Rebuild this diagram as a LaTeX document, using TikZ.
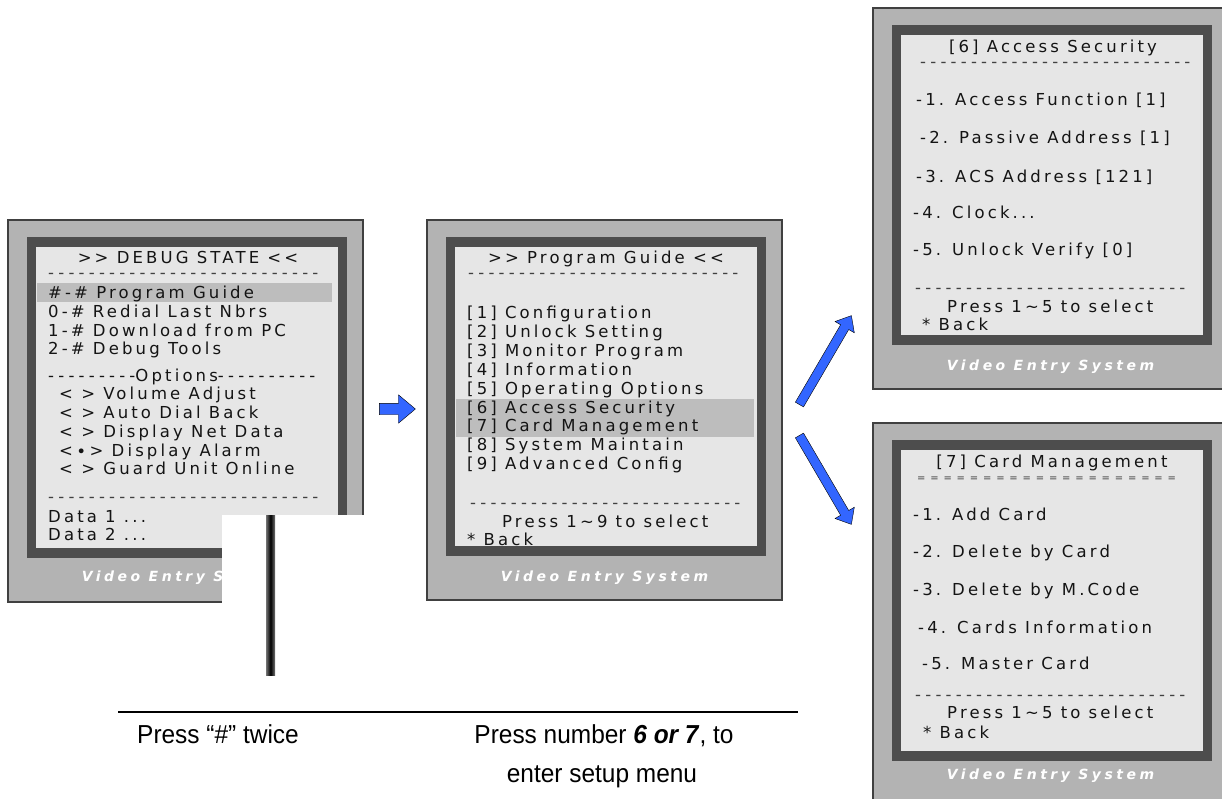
\documentclass[tikz,border=0pt]{standalone}
\usepackage{fontspec}
\newfontfamily\lcdfont[LetterSpace=19,Ligatures=TeXOff]{DejaVu Sans}
\newfontfamily\rulefont[LetterSpace=25.5,Ligatures=TeXOff]{DejaVu Sans}
\newfontfamily\eqfont[LetterSpace=48,Ligatures=TeXOff]{DejaVu Sans}
\newfontfamily\brandfont[LetterSpace=25]{DejaVu Sans}
\newfontfamily\capfont[FakeStretch=0.94]{Liberation Sans}
\newcommand\lcdspacing{\spaceskip 0.5em\relax}
\usetikzlibrary{shapes.arrows}

\definecolor{framegray}{HTML}{B3B3B3}
\definecolor{bezel}{HTML}{4D4D4D}
\definecolor{lcdgray}{HTML}{E6E6E6}
\definecolor{selgray}{HTML}{BDBDBD}
\definecolor{inkgray}{HTML}{141414}
\definecolor{arrowblue}{HTML}{3366FF}

\begin{document}
\begin{tikzpicture}[x = 1pt, y = -1pt, % one unit = one pixel, y downwards
    outerframe/.style = {fill = framegray, draw = black!75, line width = 1.2pt},
    lcdtext/.style = {font = \lcdfont\fontsize{16.5}{19}\selectfont\lcdspacing,
        text = inkgray, inner sep = 0pt, anchor = base west},
    lcdtitle/.style = {lcdtext, anchor = base},
    lcdrule/.style = {lcdtext, font = \rulefont\fontsize{16.5}{19}\selectfont, text = black!75},
    brand/.style = {font = \brandfont\bfseries\itshape\fontsize{14}{16}\selectfont,
        text = white, inner sep = 0pt},
    caption/.style = {font = \capfont\fontsize{26}{30}\selectfont, inner sep = 0pt, anchor = base},
    blockarrow/.style = {single arrow, draw = black, thin, fill = arrowblue,
        minimum width = 0pt, single arrow tip angle = 80}
  ]

  \useasboundingbox (0,0) rectangle (1222,798);

  % the four screens: outer case, dark bezel, lcd
  \foreach \xa/\ya/\xb/\yb/\ly in {8/220/363/602/578, 427/220/782/600/578,
      873/8/1228/389/367, 873/423/1228/805/776} {
    \filldraw[outerframe] (\xa,\ya) rectangle (\xb,\yb);
    \fill[bezel] (\xa+19,\ya+17) rectangle (\xb-16,\yb-44);
    \fill[lcdgray] (\xa+28,\ya+27) rectangle (\xb-25,\yb-54);
    \node[brand] at ({(\xa+\xb)/2},\ly) {Video Entry System};
  }

  % selected lines
  \fill[selgray] (37,283) rectangle (332,302);
  \fill[selgray] (456,399) rectangle (754,437);

  % screen 1: debug state
  \node[lcdtitle] (dbg-title) at (188,263) {>> DEBUG STATE <<};
  \node[lcdrule] (dbg-rule1) at (48,278) {---------------------------};
  \foreach \y/\t in {293/\#-\# Program Guide, 312/0-\# Redial Last Nbrs,
      331/1-\# Download from PC, 349/2-\# Debug Tools}
    \node[lcdtext] (dbg-\y) at (48,\y+5.5) {\t};
  \node[lcdtext] (dbg-opts) at (48,381) {{\rulefont ---------}Options{\rulefont ----------}};
  \foreach \y/\t in {394/< > Volume Adjust, 413/< > Auto Dial Back,
      432/< > Display Net Data, 451/<∙> Display Alarm, 469/< > Guard Unit Online}
    \node[lcdtext] (dbg-\y) at (59,\y+5.5) {\t};
  \node[lcdrule] (dbg-rule2) at (48,502) {---------------------------};
  \node[lcdtext] (dbg-data1) at (48,522.5) {Data 1 ...};
  \node[lcdtext] (dbg-data2) at (48,540.5) {Data 2 ...};

  % white patch with the post over screen 1
  \fill[white] (222,515) rectangle (370,612);
  \shade[left color = black!55, right color = black!55, middle color = black]
    (266,515) rectangle (275,675);

  % screen 2: program guide
  \node[lcdtitle] (pg-title) at (606,263.5) {>> Program Guide <<};
  \node[lcdrule] (pg-rule1) at (468,278) {---------------------------};
  \foreach \i/\t in {1/Configuration, 2/Unlock Setting, 3/Monitor Program,
      4/Information, 5/Operating Options, 6/Access Security, 7/Card Management,
      8/System Maintain, 9/Advanced Config}
    \node[lcdtext] (pg-\i) at (467,{313+18.9*(\i-1)+5.5}) {[\i] \t};
  \node[lcdrule] (pg-rule2) at (470,508) {---------------------------};
  \node[lcdtext] (pg-press) at (502,527.5) {Press 1\textasciitilde 9 to select};
  \node[lcdtext] (pg-back) at (467,545.5) {* Back};

  % screen 3: access security
  \node[lcdtitle] (acs-title) at (1053,52.5) {[6] Access Security};
  \node[lcdrule] (acs-rule1) at (920,67) {---------------------------};
  \foreach \x/\y/\t in {916/100/{-1. Access Function [1]}, 920/138/{-2. Passive Address [1]},
      916/177/{-3. ACS Address [121]}, 913/213/{-4. Clock...}, 913/250/{-5. Unlock Verify [0]}}
    \node[lcdtext] (acs-\y) at (\x,\y+5.5) {\t};
  \node[lcdrule] (acs-rule2) at (915,293) {---------------------------};
  \node[lcdtext] (acs-press) at (947,312.5) {Press 1\textasciitilde 5 to select};
  \node[lcdtext] (acs-back) at (922,330.5) {* Back};

  % screen 4: card management
  \node[lcdtitle] (card-title) at (1052,467.5) {[7] Card Management};
  \node[lcdtext, font = \eqfont\fontsize{10}{12}\selectfont, text = black!75]
    (card-rule1) at (917,481.5) {====================};
  \foreach \x/\y/\t in {913/515/-1. Add Card, 913/552/-2. Delete by Card,
      913/590/-3. Delete by M.Code, 918/628/-4. Cards Information, 922/664/-5. Master Card}
    \node[lcdtext] (card-\y) at (\x,\y+5.5) {\t};
  \node[lcdrule] (card-rule2) at (915,700) {---------------------------};
  \node[lcdtext] (card-press) at (947,718.5) {Press 1\textasciitilde 5 to select};
  \node[lcdtext] (card-back) at (923,738.5) {* Back};

  % blue arrows
  \node[blockarrow, inner sep = 5.5pt, single arrow head extend = 8.5pt,
    minimum height = 36pt] (go-guide) at (394,409) {};
  \node[blockarrow, inner sep = 4.5pt, single arrow head extend = 6.5pt,
    minimum height = 103pt, rotate = 59.7] (go-acs) at (824,362.5) {};
  \node[blockarrow, inner sep = 4.5pt, single arrow head extend = 6.5pt,
    minimum height = 103pt, rotate = -59.7] (go-card) at (824,477.5) {};

  % captions
  \coordinate (rule-l) at (118,712);
  \coordinate (rule-r) at (798,712);
  \draw[line width = 1.5pt] (rule-l) -- (rule-r);
  \node[caption] (cap-hash) at (218,743) {Press “\#” twice};
  \node[caption] (cap-num) at (604,743) {Press number \textbf{\textit{6 or 7}}, to};
  \node[caption] (cap-menu) at (602,782) {enter setup menu};
\end{tikzpicture}
\end{document}
